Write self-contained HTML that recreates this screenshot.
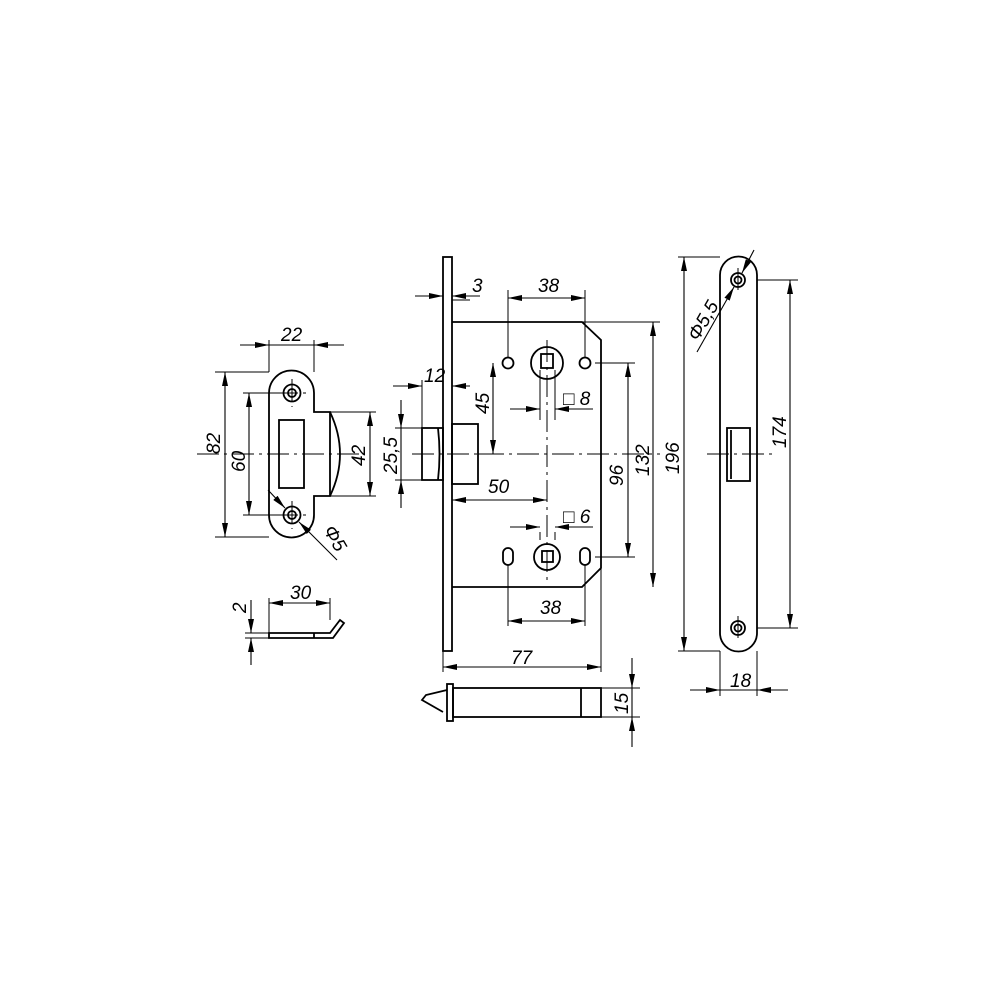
<!DOCTYPE html>
<html><head><meta charset="utf-8"><style>body{margin:0;background:#fff}svg{display:block}text{font-family:"Liberation Sans",sans-serif;font-style:italic;font-size:19px;fill:#000}</style></head><body>
<svg width="1000" height="1000" viewBox="0 0 1000 1000" xmlns="http://www.w3.org/2000/svg">
<defs><marker id="a" viewBox="0 0 14 6" refX="14" refY="3" markerWidth="14" markerHeight="6" orient="auto-start-reverse" markerUnits="userSpaceOnUse"><path d="M0,0L14,3L0,6z" fill="#000"/></marker></defs>
<g fill="none" stroke="#000" stroke-width="1.8">
<rect x="443" y="257" width="9" height="394"/>
<path d="M452,322H582L601,340V568L582,587H452"/>
<rect x="422" y="428" width="21" height="52"/>
<path d="M438,428Q441,454 438,480"/>
<rect x="452" y="424" width="26" height="60"/>
<circle cx="547" cy="363" r="16"/><rect x="541" y="354" width="12" height="14"/>
<circle cx="508" cy="363" r="5.5"/><circle cx="585" cy="363" r="5.5"/>
<circle cx="547" cy="557" r="13"/><rect x="542" y="551" width="11" height="11"/>
<rect x="503" y="548" width="10" height="17" rx="5"/><rect x="580" y="548" width="10" height="17" rx="5"/>
<rect x="447" y="684" width="6" height="37"/>
<rect x="453" y="688" width="148" height="29"/>
<line x1="581" y1="688" x2="581" y2="717"/>
<path d="M447,690L426,695L422,700L443,712"/>
<path d="M314,412H330V496H314V515A22,22 0 0 1 269,515V393A22,22 0 0 1 314,393Z"/>
<path d="M330,412Q350,454 330,496"/>
<rect x="279" y="420" width="25" height="68"/>
<circle cx="292" cy="393" r="8.5"/><circle cx="292" cy="393" r="4"/>
<circle cx="292" cy="515" r="8.5"/><circle cx="292" cy="515" r="4"/>
<path d="M269,633H330L340,620L344,623L333,638H269Z"/>
<line x1="314" y1="633" x2="314" y2="638"/>
<path d="M720,275A18.5,18.5 0 0 1 757,275V633A18.5,18.5 0 0 1 720,633Z"/>
<circle cx="738" cy="280" r="7"/><circle cx="738" cy="280" r="3.5"/>
<circle cx="738" cy="628" r="7"/><circle cx="738" cy="628" r="3.5"/>
<rect x="727" y="428" width="23" height="53"/><line x1="731" y1="430" x2="731" y2="479"/>
</g>
<g fill="none" stroke="#000" stroke-width="1">
<path d="M412,454H660M547,340V580M197,454H362M707,454H776M738,268V292M738,616V640M276,393H308M292,379V407M276,515H308M292,501V529" stroke-dasharray="22,5,3,5"/>
<path d="M443,257V290M452,300H470M508,358V290M585,358V290M582,322H660M595,363H635M595,557H635M478,454H500M422,380V428M452,380V424M422,428H395M422,480H395M452,487V505M540,370V420M555,370V420M540,540V532M555,540V532M508,565V626M585,565V626M443,651V672M601,568V672M601,688H640M601,717H640M269,372V340M314,372V340M269,372H215M269,537H215M292,393H243M292,515H243M330,412H376M330,496H376M269,633V598M330,620V598M269,633H245M269,638H245M720,257H678M720,651H678M757,280H798M757,628H798M720,651V696M757,651V696"/>
</g>
<g stroke="#000" stroke-width="1.1" fill="none">
<line x1="415" y1="296" x2="443" y2="296" marker-end="url(#a)"/><line x1="480" y1="296" x2="452" y2="296" marker-end="url(#a)"/>
<line x1="508" y1="298" x2="585" y2="298" marker-start="url(#a)" marker-end="url(#a)"/>
<line x1="653" y1="322" x2="653" y2="587" marker-start="url(#a)" marker-end="url(#a)"/>
<line x1="628" y1="363" x2="628" y2="557" marker-start="url(#a)" marker-end="url(#a)"/>
<line x1="493" y1="363" x2="493" y2="454" marker-start="url(#a)" marker-end="url(#a)"/>
<line x1="393" y1="386" x2="422" y2="386" marker-end="url(#a)"/><line x1="470" y1="386" x2="452" y2="386" marker-end="url(#a)"/>
<line x1="401" y1="400" x2="401" y2="428" marker-end="url(#a)"/><line x1="401" y1="508" x2="401" y2="480" marker-end="url(#a)"/><line x1="401" y1="428" x2="401" y2="480"/>
<line x1="452" y1="500" x2="547" y2="500" marker-start="url(#a)" marker-end="url(#a)"/>
<line x1="510" y1="409" x2="540" y2="409" marker-end="url(#a)"/><line x1="593" y1="409" x2="555" y2="409" marker-end="url(#a)"/>
<line x1="510" y1="527" x2="540" y2="527" marker-end="url(#a)"/><line x1="593" y1="527" x2="555" y2="527" marker-end="url(#a)"/>
<line x1="508" y1="621" x2="585" y2="621" marker-start="url(#a)" marker-end="url(#a)"/>
<line x1="443" y1="667" x2="601" y2="667" marker-start="url(#a)" marker-end="url(#a)"/>
<line x1="632" y1="658" x2="632" y2="688" marker-end="url(#a)"/><line x1="632" y1="747" x2="632" y2="717" marker-end="url(#a)"/><line x1="632" y1="688" x2="632" y2="717"/>
<line x1="240" y1="345" x2="269" y2="345" marker-end="url(#a)"/><line x1="344" y1="345" x2="314" y2="345" marker-end="url(#a)"/><line x1="269" y1="345" x2="314" y2="345"/>
<line x1="225" y1="372" x2="225" y2="537" marker-start="url(#a)" marker-end="url(#a)"/>
<line x1="249" y1="393" x2="249" y2="515" marker-start="url(#a)" marker-end="url(#a)"/>
<line x1="370" y1="412" x2="370" y2="496" marker-start="url(#a)" marker-end="url(#a)"/>
<line x1="268" y1="490" x2="285" y2="508" marker-end="url(#a)"/><line x1="337" y1="560" x2="299" y2="522" marker-end="url(#a)"/>
<line x1="269" y1="603" x2="330" y2="603" marker-start="url(#a)" marker-end="url(#a)"/>
<line x1="251" y1="600" x2="251" y2="633" marker-end="url(#a)"/><line x1="251" y1="665" x2="251" y2="638" marker-end="url(#a)"/>
<line x1="684" y1="257" x2="684" y2="651" marker-start="url(#a)" marker-end="url(#a)"/>
<line x1="790" y1="280" x2="790" y2="628" marker-start="url(#a)" marker-end="url(#a)"/>
<line x1="690" y1="690" x2="720" y2="690" marker-end="url(#a)"/><line x1="788" y1="690" x2="757" y2="690" marker-end="url(#a)"/><line x1="720" y1="690" x2="757" y2="690"/>
<line x1="697" y1="352" x2="734" y2="287" marker-end="url(#a)"/><line x1="754" y1="250" x2="742" y2="273" marker-end="url(#a)"/>
</g>
<text x="472" y="292">3</text>
<text x="538" y="292">38</text>
<text x="424" y="382">12</text>
<text x="488" y="493">50</text>
<text x="540" y="614">38</text>
<text x="511" y="664">77</text>
<text x="281" y="341">22</text>
<text x="290" y="599">30</text>
<text x="563" y="405">□ 8</text>
<text x="563" y="523">□ 6</text>
<text x="730" y="687">18</text>
<text transform="translate(489,414) rotate(-90)">45</text>
<text transform="translate(397,474) rotate(-90)">25,5</text>
<text transform="translate(623,486) rotate(-90)">96</text>
<text transform="translate(649,476) rotate(-90)">132</text>
<text transform="translate(679,474) rotate(-90)">196</text>
<text transform="translate(786,448) rotate(-90)">174</text>
<text transform="translate(628,714) rotate(-90)">15</text>
<text transform="translate(220,454) rotate(-90)">82</text>
<text transform="translate(245,472) rotate(-90)">60</text>
<text transform="translate(365,466) rotate(-90)">42</text>
<text transform="translate(246,613) rotate(-90)">2</text>
<text transform="translate(323,530) rotate(60)">Φ5</text>
<text transform="translate(698,342) rotate(-60)">Φ5,5</text>
</svg>
</body></html>
